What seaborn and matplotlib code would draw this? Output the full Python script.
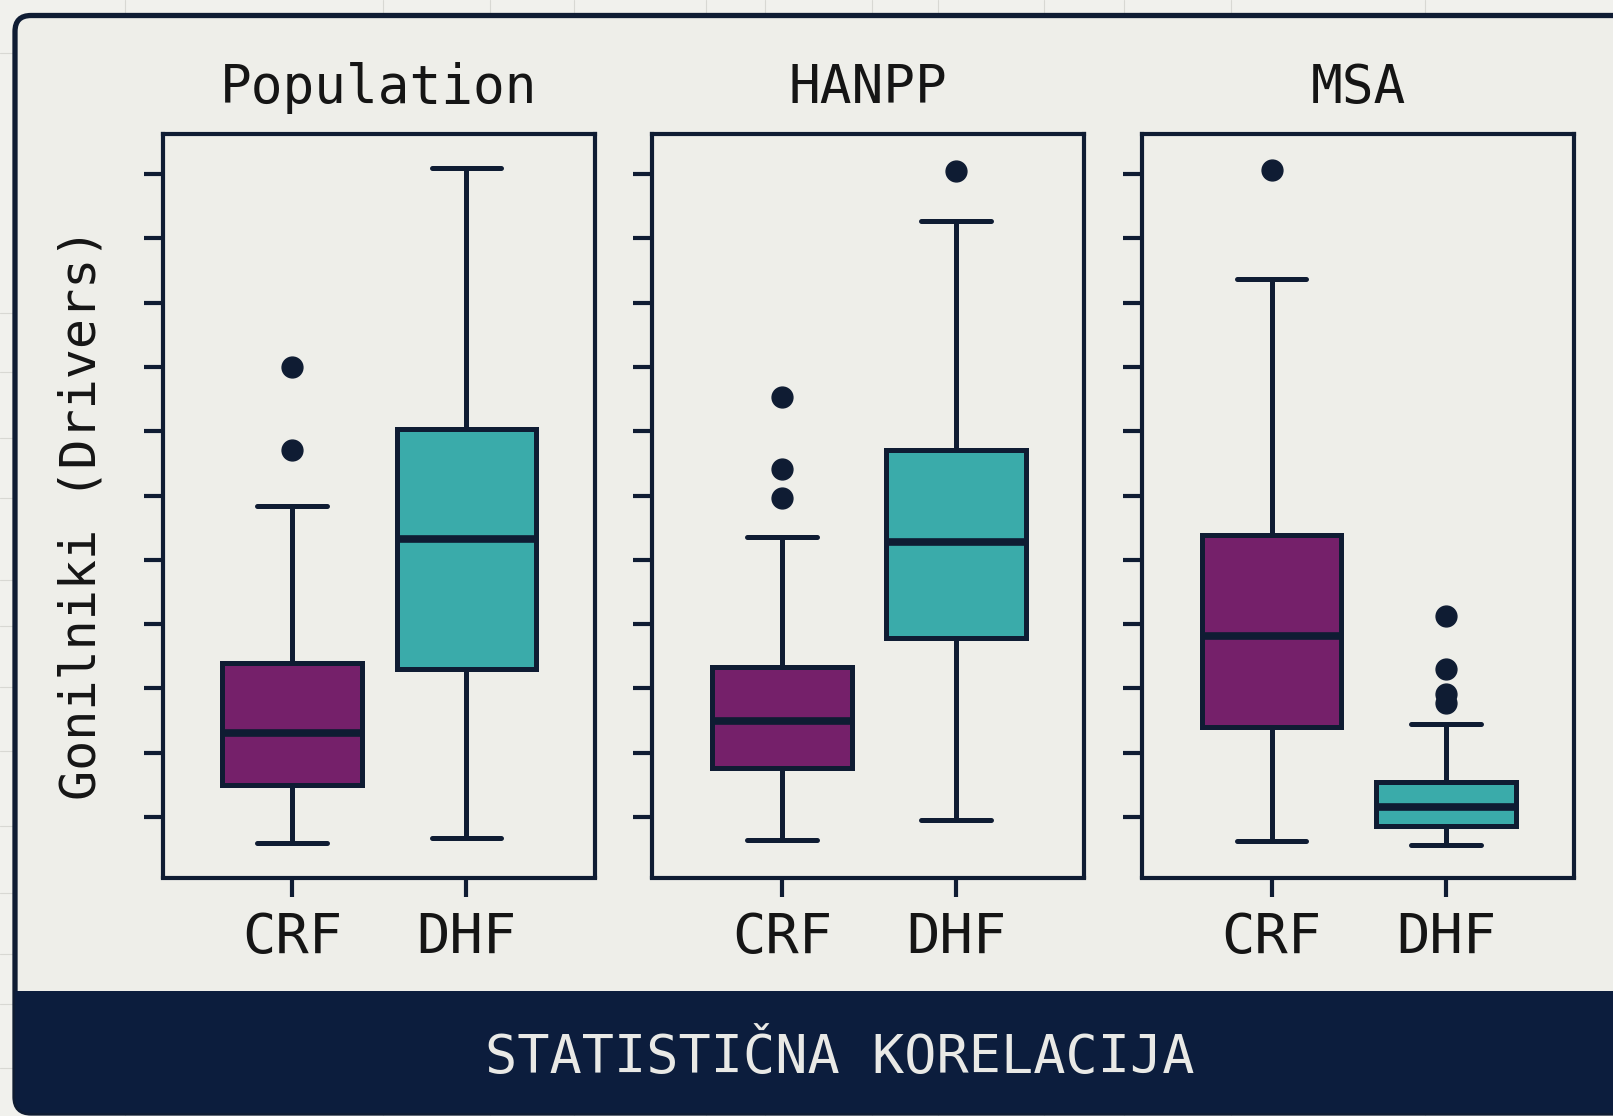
import numpy as np
import pandas as pd
import matplotlib
matplotlib.use("Agg")
import matplotlib.pyplot as plt
from matplotlib.patches import FancyBboxPatch, Rectangle
from matplotlib.lines import Line2D
from matplotlib.transforms import IdentityTransform
import seaborn as sns

# ---- data -------------------------------------------------------------
panels = ["Population", "HANPP", "MSA"]
groups = ["CRF", "DHF"]

population_crf = [-0.41, 0.00, 0.30, 0.50, 0.80, 1.10, 1.30, 1.70, 2.10, 2.39, 4.84, 5.71, 7.00]
population_dhf = [-0.33, 1.00, 1.80, 2.31, 3.00, 3.80, 4.32, 5.00, 5.60, 6.04, 7.50, 8.80, 10.10]
hanpp_crf = [-0.35, 0.10, 0.40, 0.60, 0.76, 1.00, 1.20, 1.40, 1.50, 1.70, 1.90, 2.10, 2.33,
             4.35, 4.97, 5.41, 6.54]
hanpp_dhf = [-0.05, 1.20, 2.20, 2.78, 3.30, 3.90, 4.28, 4.80, 5.30, 5.71, 7.00, 9.27, 10.05]
msa_crf = [-0.37, 0.40, 1.00, 1.40, 1.90, 2.40, 2.81, 3.30, 3.90, 4.39, 6.00, 8.37, 10.07]
msa_dhf = [-0.44, -0.35, -0.28, -0.22, -0.17, -0.135, -0.08, -0.02, 0.04, 0.10, 0.15,
           0.24, 0.32, 0.40, 0.47, 0.54, 1.44, 1.77, 1.92, 2.30, 3.13]

panel_values = {
    "Population": (population_crf, population_dhf),
    "HANPP": (hanpp_crf, hanpp_dhf),
    "MSA": (msa_crf, msa_dhf),
}

y_label = "Gonilniki (Drivers)"
footer = "STATISTIČNA KORELACIJA"

# ---- style ------------------------------------------------------------
NAVY = "#0f1c33"
BAND = "#0c1d3d"
CARD = "#eeeee9"
PAGE = "#f1f1ed"
INK = "#151515"
palette = {"CRF": "#75206a", "DHF": "#3aabaa"}

sns.set_theme(style="white")
plt.rcParams["font.family"] = ["DejaVu Sans Mono", "DejaVu Sans"]

W, H = 1613, 1116
fig = plt.figure(figsize=(W / 100, H / 100), dpi=100, facecolor=PAGE)
px = IdentityTransform()

# faint squared paper behind the card
for x in [125, 383, 490, 574, 706, 765, 872, 938, 1044, 1124, 1231, 1425]:
    fig.add_artist(Line2D([x, x], [0, H], transform=px, color="#d8d8d3", lw=0.8, zorder=0))
for y in [53, 313, 372, 438, 498, 580, 626, 687, 751, 826, 893, 954, 1004, 1068]:
    fig.add_artist(Line2D([0, W], [H - y, H - y], transform=px, color="#d8d8d3", lw=0.8, zorder=0))

# card with dark footer band
card = FancyBboxPatch((15, 3), 1660, 1097.5, boxstyle="round,pad=0,rounding_size=16",
                      transform=px, facecolor=CARD, edgecolor=NAVY, lw=3.8, zorder=1)
fig.add_artist(card)
band = Rectangle((0, 0), W + 100, H - 991, transform=px, facecolor=BAND,
                 edgecolor="none", zorder=2)
band.set_clip_path(card)
fig.add_artist(band)
fig.text(839.5, H - 1057.5, footer, transform=px, ha="center", va="center",
         fontsize=38.5, color="#e9e9e6", zorder=3)

# ---- panels -----------------------------------------------------------
lefts = [162.5, 652.2, 1141.9]
ax_w, ax_top, ax_bot = 432.1, 133.7, 877.5

for name, left in zip(panels, lefts):
    ax = fig.add_axes([left / W, (H - ax_bot) / H, ax_w / W, (ax_bot - ax_top) / H])
    ax.set_facecolor("none")
    ax.set_zorder(4)
    crf, dhf = panel_values[name]
    df = pd.DataFrame({
        "group": ["CRF"] * len(crf) + ["DHF"] * len(dhf),
        "value": list(crf) + list(dhf),
    })
    sns.boxplot(data=df, x="group", y="value", hue="group", order=groups,
                hue_order=groups, palette=palette, saturation=1, width=0.8,
                whis=1.45, linewidth=3.6, linecolor=NAVY, legend=False, ax=ax,
                medianprops=dict(color=NAVY, linewidth=5.5),
                flierprops=dict(marker="o", markersize=15, markerfacecolor=NAVY,
                                markeredgecolor=NAVY))
    ax.set_xlim(-0.744, 1.735)
    ax.set_ylim(-0.94, 10.63)
    ax.set_yticks(range(11))
    ax.tick_params(axis="y", labelleft=False)
    ax.set_xlabel("")
    ax.set_ylabel("")
    ax.tick_params(axis="both", direction="out", length=14, width=3, color=NAVY,
                   labelsize=40, labelcolor=INK, pad=10, left=True, bottom=True)
    for sp in ax.spines.values():
        sp.set_visible(True)
        sp.set_color(NAVY)
        sp.set_linewidth(3)
    ax.set_title(name, fontsize=38, color=INK, pad=22)

fig.text(82, H - 514, y_label, transform=px, rotation=90, ha="center", va="center",
         fontsize=36, color=INK, zorder=5)

fig.savefig("out.png", dpi=100, facecolor=PAGE)
